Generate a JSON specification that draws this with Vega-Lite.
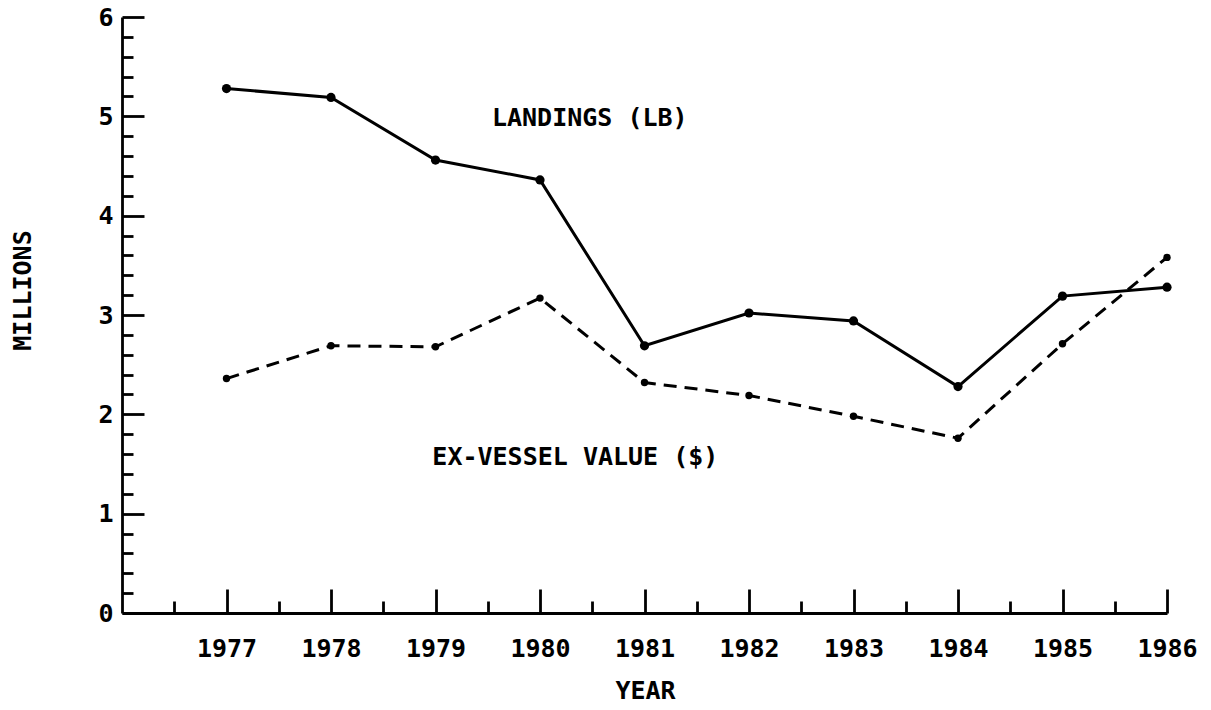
{
  "$schema": "https://vega.github.io/schema/vega-lite/v6.json",
  "width": 1045,
  "height": 596,
  "autosize": {"type": "none"},
  "padding": {"left": 122, "top": 17, "right": 44, "bottom": 97},
  "background": "white",
  "config": {
    "view": {"stroke": null},
    "axis": {
      "grid": false,
      "domainColor": "black",
      "tickColor": "black",
      "labelColor": "black",
      "titleColor": "black",
      "labelFont": "DejaVu Sans Mono",
      "titleFont": "DejaVu Sans Mono",
      "labelFontSize": 25,
      "titleFontSize": 25,
      "labelFontWeight": "bold",
      "titleFontWeight": "bold",
      "domainWidth": 2.8,
      "tickWidth": 2.8
    }
  },
  "datasets": {
    "series": [
      {"year": 1977, "series": "Landings", "millions": 5.28},
      {"year": 1978, "series": "Landings", "millions": 5.19},
      {"year": 1979, "series": "Landings", "millions": 4.56},
      {"year": 1980, "series": "Landings", "millions": 4.36},
      {"year": 1981, "series": "Landings", "millions": 2.69},
      {"year": 1982, "series": "Landings", "millions": 3.02},
      {"year": 1983, "series": "Landings", "millions": 2.94},
      {"year": 1984, "series": "Landings", "millions": 2.28},
      {"year": 1985, "series": "Landings", "millions": 3.19},
      {"year": 1986, "series": "Landings", "millions": 3.28},
      {"year": 1977, "series": "Value", "millions": 2.36},
      {"year": 1978, "series": "Value", "millions": 2.69},
      {"year": 1979, "series": "Value", "millions": 2.68},
      {"year": 1980, "series": "Value", "millions": 3.17},
      {"year": 1981, "series": "Value", "millions": 2.32},
      {"year": 1982, "series": "Value", "millions": 2.19},
      {"year": 1983, "series": "Value", "millions": 1.98},
      {"year": 1984, "series": "Value", "millions": 1.76},
      {"year": 1985, "series": "Value", "millions": 2.71},
      {"year": 1986, "series": "Value", "millions": 3.58}
    ],
    "notes": [
      {"year": 1979.54, "millions": 4.985, "label": "LANDINGS (LB)"},
      {"year": 1978.97, "millions": 1.571, "label": "EX-VESSEL VALUE ($)"}
    ]
  },
  "layer": [
    {
      "data": {"name": "series"},
      "transform": [{"filter": "datum.series === 'Landings'"}],
      "mark": {"type": "line", "color": "black", "strokeWidth": 3, "point": {"filled": true, "color": "black", "size": 85}},
      "encoding": {
        "x": {
          "field": "year", "type": "quantitative",
          "scale": {"domain": [1976, 1986], "nice": false, "zero": false},
          "axis": {"orient": "bottom", "values": [1977, 1978, 1979, 1980, 1981, 1982, 1983, 1984, 1985, 1986], "format": "d", "tickSize": -24, "labelPadding": 47, "labelFlush": false, "labelOverlap": false, "title": "YEAR", "titleX": 523, "titleY": 77, "titleBaseline": "middle", "titleAlign": "center"}
        },
        "y": {
          "field": "millions", "type": "quantitative",
          "scale": {"domain": [0, 6], "nice": false, "zero": true},
          "axis": {"orient": "left", "values": [0, 1, 2, 3, 4, 5, 6], "tickSize": -22, "labelPadding": 31, "labelFlush": false, "labelOverlap": false, "labelBaseline": "middle", "title": "MILLIONS", "titleX": -100, "titleY": 273, "titleAngle": -90, "titleBaseline": "middle", "titleAlign": "center"}
        }
      }
    },
    {
      "data": {"name": "series"},
      "transform": [{"filter": "datum.series === 'Value'"}],
      "mark": {"type": "line", "color": "black", "strokeWidth": 3, "strokeDash": [13, 8], "point": {"filled": true, "color": "black", "size": 55}},
      "encoding": {
        "x": {
          "field": "year", "type": "quantitative",
          "axis": {"orient": "bottom", "values": [1976.5, 1977.5, 1978.5, 1979.5, 1980.5, 1981.5, 1982.5, 1983.5, 1984.5, 1985.5], "tickSize": -12, "labels": false, "domain": false, "title": null}
        },
        "y": {
          "field": "millions", "type": "quantitative",
          "axis": {"orient": "left", "values": [0.2, 0.4, 0.6, 0.8, 1.2, 1.4, 1.6, 1.8, 2.2, 2.4, 2.6, 2.8, 3.2, 3.4, 3.6, 3.8, 4.2, 4.4, 4.6, 4.8, 5.2, 5.4, 5.6, 5.8], "tickSize": -11, "labels": false, "domain": false, "title": null}
        }
      }
    },
    {
      "data": {"name": "notes"},
      "mark": {"type": "text", "align": "left", "baseline": "middle", "font": "DejaVu Sans Mono", "fontSize": 25, "fontWeight": "bold", "color": "black"},
      "encoding": {
        "x": {"field": "year", "type": "quantitative", "axis": null},
        "y": {"field": "millions", "type": "quantitative", "axis": null},
        "text": {"field": "label"}
      }
    }
  ],
  "resolve": {"axis": {"x": "independent", "y": "independent"}}
}
